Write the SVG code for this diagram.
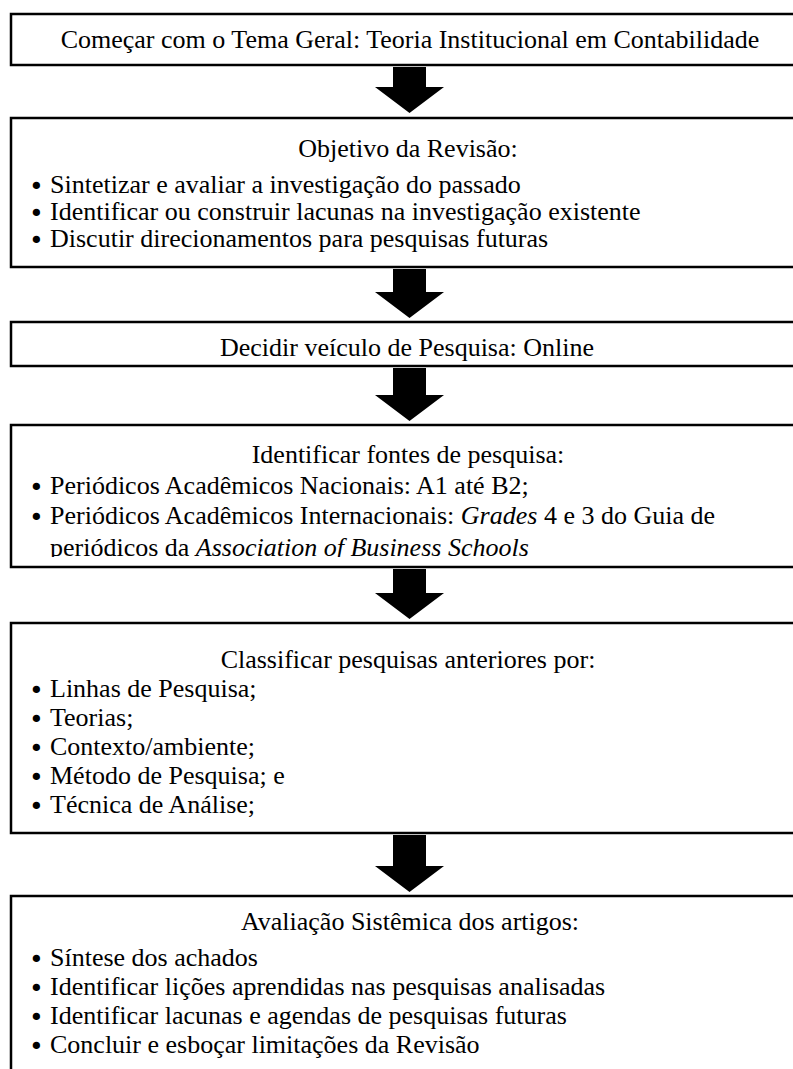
<svg xmlns="http://www.w3.org/2000/svg" width="793" height="1069" viewBox="0 0 793 1069">
<style>
  .box { fill: #ffffff; stroke: #000000; stroke-width: 2.5; }
  text { font-family: "Liberation Serif", "Times New Roman", serif; font-size: 26px; fill: #000000; }
  .t { text-anchor: middle; }
  .bul { font-family: "DejaVu Sans", sans-serif; font-size: 25px; }
  .i { font-style: italic; }
  .arrow { fill: #000000; }
</style>
<defs>
  <clipPath id="clip4"><rect x="0" y="425" width="800" height="132"/></clipPath>
</defs>
<rect x="0" y="0" width="793" height="1069" fill="#ffffff"/>

<g id="connectors">
  <polygon class="arrow" points="393,67 426,67 426,87 444,87 409.5,113 375,87 393,87"/>
  <polygon class="arrow" points="393,269 426,269 426,292 444,292 409.5,318 375,292 393,292"/>
  <polygon class="arrow" points="393,368 426,368 426,395 444,395 409.5,421 375,395 393,395"/>
  <polygon class="arrow" points="393,569 426,569 426,593 444,593 409.5,619 375,593 393,593"/>
  <polygon class="arrow" points="393,835 426,835 426,866 444,866 409.5,892 375,866 393,866"/>
</g>

<g id="node1">
  <rect class="box" x="11" y="14" width="800" height="51"/>
  <text class="t" x="410" y="48">Começar com o Tema Geral: Teoria Institucional em Contabilidade</text>
</g>

<g id="node2">
  <rect class="box" x="11" y="118" width="800" height="149"/>
  <text class="t" x="408" y="157">Objetivo da Revisão:</text>
  <text x="29" y="193"><tspan class="bul" dy="1.5">•</tspan><tspan x="50" dy="-1.5">Sintetizar e avaliar a investigação do passado</tspan></text>
  <text x="29" y="220"><tspan class="bul" dy="1.5">•</tspan><tspan x="50" dy="-1.5">Identificar ou construir lacunas na investigação existente</tspan></text>
  <text x="29" y="247"><tspan class="bul" dy="1.5">•</tspan><tspan x="50" dy="-1.5">Discutir direcionamentos para pesquisas futuras</tspan></text>
</g>

<g id="node3">
  <rect class="box" x="11" y="322" width="800" height="44"/>
  <text class="t" x="407" y="356">Decidir veículo de Pesquisa: Online</text>
</g>

<g id="node4">
  <rect class="box" x="11" y="425" width="800" height="142"/>
  <text class="t" x="408" y="463">Identificar fontes de pesquisa:</text>
  <g clip-path="url(#clip4)">
    <text x="29" y="494"><tspan class="bul" dy="1.5">•</tspan><tspan x="50" dy="-1.5">Periódicos Acadêmicos Nacionais: A1 até B2;</tspan></text>
    <text x="29" y="524"><tspan class="bul" dy="1.5">•</tspan><tspan x="50" dy="-1.5">Periódicos Acadêmicos Internacionais: </tspan><tspan class="i">Grades</tspan><tspan> 4 e 3 do Guia de</tspan></text>
    <text x="50" y="556">periódicos da <tspan class="i">Association of Business Schools</tspan></text>
  </g>
</g>

<g id="node5">
  <rect class="box" x="11" y="623" width="800" height="210"/>
  <text class="t" x="408" y="668">Classificar pesquisas anteriores por:</text>
  <text x="29" y="697"><tspan class="bul" dy="1.5">•</tspan><tspan x="50" dy="-1.5">Linhas de Pesquisa;</tspan></text>
  <text x="29" y="726"><tspan class="bul" dy="1.5">•</tspan><tspan x="50" dy="-1.5">Teorias;</tspan></text>
  <text x="29" y="755"><tspan class="bul" dy="1.5">•</tspan><tspan x="50" dy="-1.5">Contexto/ambiente;</tspan></text>
  <text x="29" y="784"><tspan class="bul" dy="1.5">•</tspan><tspan x="50" dy="-1.5">Método de Pesquisa; e</tspan></text>
  <text x="29" y="813"><tspan class="bul" dy="1.5">•</tspan><tspan x="50" dy="-1.5">Técnica de Análise;</tspan></text>
</g>

<g id="node6">
  <rect class="box" x="11" y="896" width="800" height="200"/>
  <text class="t" x="410" y="930">Avaliação Sistêmica dos artigos:</text>
  <text x="29" y="966"><tspan class="bul" dy="1.5">•</tspan><tspan x="50" dy="-1.5">Síntese dos achados</tspan></text>
  <text x="29" y="995"><tspan class="bul" dy="1.5">•</tspan><tspan x="50" dy="-1.5">Identificar lições aprendidas nas pesquisas analisadas</tspan></text>
  <text x="29" y="1024"><tspan class="bul" dy="1.5">•</tspan><tspan x="50" dy="-1.5">Identificar lacunas e agendas de pesquisas futuras</tspan></text>
  <text x="29" y="1053"><tspan class="bul" dy="1.5">•</tspan><tspan x="50" dy="-1.5">Concluir e esboçar limitações da Revisão</tspan></text>
</g>
</svg>
